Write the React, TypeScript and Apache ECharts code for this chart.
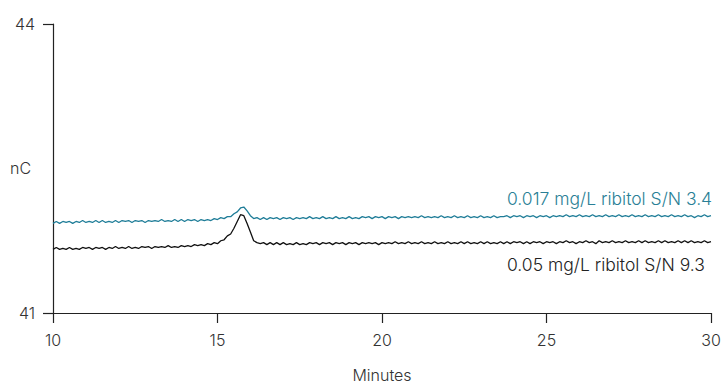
import React, { useEffect, useRef } from "react";
import * as echarts from "echarts";

const startMinute = 10;
const stepMinute = 0.1;
const xTicks = [10, 15, 20, 25, 30];
const yTicks = [41, 44];

const tealLabel = "0.017 mg/L ribitol S/N 3.4";
const blackLabel = "0.05 mg/L ribitol S/N 9.3";

const tealValues = [
  41.93, 41.95, 41.93, 41.95, 41.94, 41.95, 41.93, 41.95, 41.94, 41.96,
  41.94, 41.95, 41.94, 41.96, 41.94, 41.96, 41.94, 41.95, 41.94, 41.96,
  41.94, 41.96, 41.95, 41.96, 41.94, 41.96, 41.95, 41.96, 41.94, 41.96,
  41.95, 41.96, 41.95, 41.97, 41.95, 41.96, 41.95, 41.97, 41.95, 41.97,
  41.95, 41.97, 41.96, 41.97, 41.95, 41.97, 41.96, 41.97, 41.96, 41.98,
  41.97, 41.99, 41.98, 42.0, 42.0, 42.03, 42.05, 42.09, 42.1, 42.06,
  42.01, 41.98, 41.99, 41.97, 41.99, 41.97, 41.99, 41.98, 41.99, 41.97,
  41.99, 41.98, 41.99, 41.97, 41.99, 41.98, 41.99, 41.98, 42.0, 41.98,
  41.99, 41.98, 42.0, 41.98, 41.99, 41.98, 42.0, 41.98, 41.99, 41.98,
  42.0, 41.98, 41.99, 41.98, 42.0, 41.99, 42.0, 41.98, 42.0, 41.99,
  42.0, 41.98, 42.0, 41.99, 42.0, 41.98, 42.0, 41.99, 42.0, 41.99,
  42.0, 41.99, 42.01, 41.99, 42.0, 41.99, 42.0, 41.99, 42.01, 41.99,
  42.0, 41.99, 42.01, 41.99, 42.0, 41.99, 42.01, 41.99, 42.0, 41.99,
  42.01, 41.99, 42.0, 41.99, 42.01, 41.99, 42.0, 42.0, 42.01, 41.99,
  42.01, 42.0, 42.01, 41.99, 42.01, 42.0, 42.01, 41.99, 42.01, 42.0,
  42.01, 41.99, 42.01, 42.0, 42.01, 42.0, 42.02, 42.0, 42.01, 42.0,
  42.02, 42.0, 42.01, 42.0, 42.02, 42.0, 42.01, 42.0, 42.02, 42.0,
  42.01, 42.0, 42.02, 42.0, 42.01, 42.0, 42.02, 42.0, 42.01, 42.0,
  42.02, 42.0, 42.01, 42.0, 42.02, 42.0, 42.01, 42.0, 42.02, 42.0,
  42.01, 42.0, 42.02, 42.0, 42.01, 41.99, 42.01, 42.0, 42.02, 42.0,
  42.01,
];

const blackValues = [
  41.66, 41.68, 41.66, 41.67, 41.66, 41.68, 41.66, 41.67, 41.66, 41.68,
  41.67, 41.68, 41.66, 41.68, 41.67, 41.68, 41.66, 41.68, 41.67, 41.69,
  41.67, 41.68, 41.67, 41.69, 41.67, 41.68, 41.67, 41.69, 41.68, 41.69,
  41.67, 41.69, 41.68, 41.69, 41.68, 41.7, 41.68, 41.69, 41.68, 41.7,
  41.69, 41.7, 41.69, 41.71, 41.7, 41.71, 41.7, 41.72, 41.71, 41.73,
  41.72, 41.75, 41.76, 41.8, 41.82, 41.88, 41.95, 42.02, 42.01, 41.93,
  41.84, 41.75, 41.73, 41.72, 41.73, 41.71, 41.73, 41.71, 41.73, 41.71,
  41.73, 41.71, 41.72, 41.71, 41.73, 41.71, 41.72, 41.71, 41.73, 41.72,
  41.73, 41.71, 41.73, 41.72, 41.73, 41.71, 41.73, 41.72, 41.73, 41.71,
  41.73, 41.72, 41.73, 41.71, 41.73, 41.72, 41.73, 41.72, 41.73, 41.71,
  41.73, 41.72, 41.73, 41.72, 41.74, 41.72, 41.73, 41.72, 41.74, 41.72,
  41.73, 41.72, 41.74, 41.72, 41.73, 41.72, 41.74, 41.72, 41.73, 41.72,
  41.74, 41.72, 41.73, 41.72, 41.74, 41.72, 41.74, 41.72, 41.73, 41.72,
  41.74, 41.72, 41.74, 41.72, 41.73, 41.72, 41.74, 41.72, 41.74, 41.72,
  41.74, 41.73, 41.74, 41.72, 41.74, 41.72, 41.74, 41.73, 41.74, 41.72,
  41.74, 41.73, 41.74, 41.72, 41.74, 41.73, 41.75, 41.73, 41.74, 41.72,
  41.74, 41.73, 41.75, 41.73, 41.74, 41.72, 41.75, 41.73, 41.74, 41.73,
  41.75, 41.73, 41.74, 41.73, 41.75, 41.73, 41.74, 41.73, 41.75, 41.73,
  41.75, 41.73, 41.74, 41.73, 41.75, 41.73, 41.75, 41.73, 41.74, 41.73,
  41.75, 41.73, 41.75, 41.73, 41.75, 41.73, 41.74, 41.73, 41.75, 41.73,
  41.74,
];

const toPairs = (vals: number[]) =>
  vals.map((v, i) => [+(startMinute + i * stepMinute).toFixed(2), v]);

export default function App() {
  const ref = useRef<HTMLDivElement>(null);
  useEffect(() => {
    if (!ref.current) return;
    const chart = echarts.init(ref.current, undefined, { renderer: "svg" });
    const font = "Inter, 'Liberation Sans', Arial, sans-serif";
    const w = 300;
    chart.setOption({
      animation: false,
      backgroundColor: "#ffffff",
      grid: {
        left: 53,
        right: 14,
        top: 24,
        bottom: 74,
        containLabel: false,
        outerBoundsMode: "none",
      },
      xAxis: {
        type: "value",
        min: xTicks[0],
        max: xTicks[xTicks.length - 1],
        interval: 5,
        axisLine: { show: true, lineStyle: { color: "#222", width: 1.2 } },
        axisTick: { show: true, length: 10, lineStyle: { color: "#222", width: 1.2 } },
        axisLabel: { color: "#333", fontSize: 16, fontWeight: w, fontFamily: font, margin: 19 },
        splitLine: { show: false },
        name: "Minutes",
        nameLocation: "middle",
        nameGap: 54,
        nameTextStyle: { color: "#333", fontSize: 16, fontWeight: w, fontFamily: font },
      },
      yAxis: {
        type: "value",
        min: yTicks[0],
        max: yTicks[1],
        interval: 3,
        axisLine: { show: true, lineStyle: { color: "#222", width: 1.2 } },
        axisTick: { show: true, length: 10, lineStyle: { color: "#222", width: 1.2 } },
        axisLabel: { color: "#333", fontSize: 16, fontWeight: w, fontFamily: font, margin: 18 },
        splitLine: { show: false },
      },
      graphic: [
        {
          type: "text",
          left: 10,
          top: 160,
          style: { text: "nC", fill: "#333", fontSize: 16, fontWeight: w, fontFamily: font },
        },
        {
          type: "text",
          left: 507,
          top: 189,
          style: { text: tealLabel, fill: "#2a7f96", fontSize: 17.5, fontWeight: w, fontFamily: font },
        },
        {
          type: "text",
          left: 507,
          top: 255,
          style: { text: blackLabel, fill: "#222", fontSize: 17.5, fontWeight: w, fontFamily: font },
        },
      ],
      series: [
        {
          type: "line",
          data: toPairs(tealValues),
          showSymbol: false,
          lineStyle: { color: "#1f7d98", width: 1.3 },
          z: 3,
        },
        {
          type: "line",
          data: toPairs(blackValues),
          showSymbol: false,
          lineStyle: { color: "#111111", width: 1.3 },
          z: 2,
        },
      ],
    });
    return () => chart.dispose();
  }, []);
  return <div ref={ref} style={{ width: 725, height: 387, position: "absolute", left: 0, top: 0 }} />;
}
